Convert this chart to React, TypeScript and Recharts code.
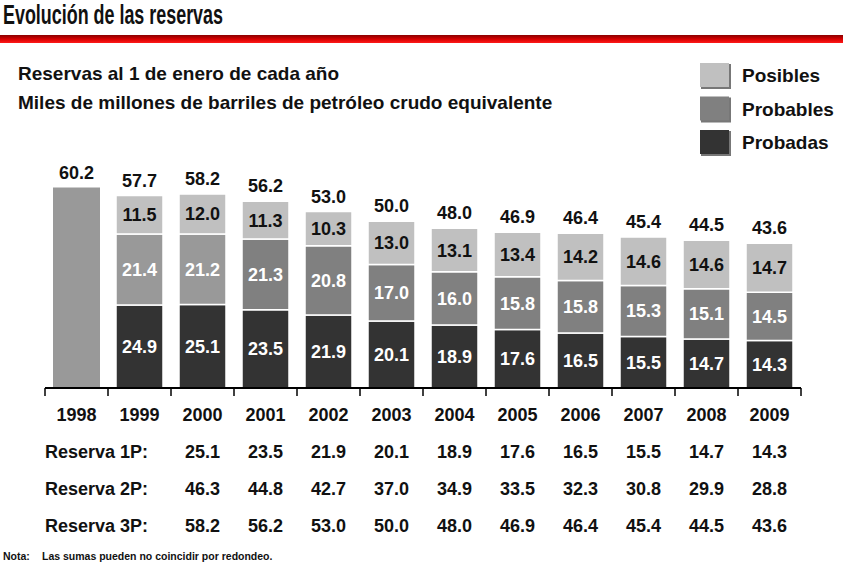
import React from 'react'
import { BarChart, Bar, XAxis, YAxis, Cell, LabelList } from 'recharts'

const years = ['1998', '1999', '2000', '2001', '2002', '2003', '2004', '2005', '2006', '2007', '2008', '2009']
// 1998 only has the total, no breakdown
const total1998 = [60.2, null, null, null, null, null, null, null, null, null, null, null]
const probadas = [null, 24.9, 25.1, 23.5, 21.9, 20.1, 18.9, 17.6, 16.5, 15.5, 14.7, 14.3]
const probables = [null, 21.4, 21.2, 21.3, 20.8, 17.0, 16.0, 15.8, 15.8, 15.3, 15.1, 14.5]
const posibles = [null, 11.5, 12.0, 11.3, 10.3, 13.0, 13.1, 13.4, 14.2, 14.6, 14.6, 14.7]
const totals = [60.2, 57.7, 58.2, 56.2, 53.0, 50.0, 48.0, 46.9, 46.4, 45.4, 44.5, 43.6]

// table below the chart, columns 2000..2009
const tableYears = ['2000', '2001', '2002', '2003', '2004', '2005', '2006', '2007', '2008', '2009']
const reserva1P = [25.1, 23.5, 21.9, 20.1, 18.9, 17.6, 16.5, 15.5, 14.7, 14.3]
const reserva2P = [46.3, 44.8, 42.7, 37.0, 34.9, 33.5, 32.3, 30.8, 29.9, 28.8]
const reserva3P = [58.2, 56.2, 53.0, 50.0, 48.0, 46.9, 46.4, 45.4, 44.5, 43.6]

const data = years.map((year, i) => ({
  year,
  base: total1998[i],
  probadas: probadas[i],
  probables: probables[i],
  posibles: posibles[i],
  total: posibles[i] == null ? null : totals[i],
}))

const FONT = '"Liberation Sans", Arial, sans-serif'
const W = 845
const H = 563
const PLOT_LEFT = 45
const PLOT_RIGHT = 801
const BW = (PLOT_RIGHT - PLOT_LEFT) / years.length

const C_POS = '#C0C0C0'
const C_PROB_LIGHT = '#999999'
const C_PROB = '#808080'
const C_PRD = '#333333'

const legendItems = [
  { name: 'Posibles', color: C_POS },
  { name: 'Probables', color: C_PROB },
  { name: 'Probadas', color: C_PRD },
]

const fmt = (v: any) => (v == null ? '' : Number(v).toFixed(1))

function YearTick(props: any) {
  const { x, y, payload, index } = props
  const last = index === years.length - 1
  return (
    <g transform={`translate(${x},${y})`}>
      <line x1={-BW / 2} x2={-BW / 2} y1={0} y2={8} stroke="#000" strokeWidth={1.5} />
      {last && <line x1={BW / 2} x2={BW / 2} y1={0} y2={8} stroke="#000" strokeWidth={1.5} />}
      <text y={33} textAnchor="middle" fontFamily={FONT} fontWeight="bold" fontSize={18} fill="#111">
        {payload.value}
      </text>
    </g>
  )
}

const inner = (color: string) => (props: any) => {
  const { x, y, width, height, value } = props
  if (value == null) return null
  return (
    <text x={x + width / 2} y={y + height / 2 + 6.5} textAnchor="middle" fontFamily={FONT}
      fontWeight="bold" fontSize={18} fill={color}>
      {fmt(value)}
    </text>
  )
}

const topLabel = (props: any) => {
  const { x, y, width, value } = props
  if (value == null) return null
  return (
    <text x={x + width / 2} y={y - 9} textAnchor="middle" fontFamily={FONT}
      fontWeight="bold" fontSize={18} fill="#111">
      {fmt(value)}
    </text>
  )
}

const colX = (year: string) => PLOT_LEFT + BW * (years.indexOf(year) + 0.5)

const tableRows = [
  { label: 'Reserva 1P:', values: reserva1P, y: 458 },
  { label: 'Reserva 2P:', values: reserva2P, y: 495 },
  { label: 'Reserva 3P:', values: reserva3P, y: 532 },
]

export default function App() {
  return (
    <div style={{ position: 'absolute', left: 0, top: 0, width: W, height: H, background: '#fff', fontFamily: FONT, overflow: 'hidden' }}>
      {/* header + table text */}
      <svg width={W} height={H} style={{ position: 'absolute', left: 0, top: 0 }}>
        <defs>
          <linearGradient id="redbar" x1="0" y1="0" x2="0" y2="1">
            <stop offset="0" stopColor="#8a0000" />
            <stop offset="0.5" stopColor="#d40000" />
            <stop offset="1" stopColor="#ff1a1a" />
          </linearGradient>
        </defs>
        <text x={3} y={24} fontFamily={FONT} fontWeight="bold" fontSize={27} fill="#111"
          textLength={220} lengthAdjust="spacingAndGlyphs">
          Evolución de las reservas
        </text>
        <rect x={0} y={35} width={843} height={8} fill="url(#redbar)" />
        <text x={18} y={80} fontFamily={FONT} fontWeight="bold" fontSize={19} fill="#111">
          Reservas al 1 de enero de cada año
        </text>
        <text x={18} y={109} fontFamily={FONT} fontWeight="bold" fontSize={19} fill="#111">
          Miles de millones de barriles de petróleo crudo equivalente
        </text>

        {legendItems.map((it, i) => (
          <g key={it.name}>
            <rect x={701} y={64 + i * 33.5} width={30} height={25} fill="#777" />
            <rect x={700} y={63 + i * 33.5} width={29} height={24} fill={it.color} />
            <text x={742} y={82 + i * 33.5} fontFamily={FONT} fontWeight="bold" fontSize={19} fill="#111">
              {it.name}
            </text>
          </g>
        ))}

        {tableRows.map((row) => (
          <g key={row.label}>
            <text x={PLOT_LEFT} y={row.y} fontFamily={FONT} fontWeight="bold" fontSize={18} fill="#111">
              {row.label}
            </text>
            {row.values.map((v, i) => (
              <text key={i} x={colX(tableYears[i])} y={row.y} textAnchor="middle" fontFamily={FONT}
                fontWeight="bold" fontSize={18} fill="#111">
                {fmt(v)}
              </text>
            ))}
          </g>
        ))}

        <text x={3} y={560} fontFamily={FONT} fontWeight="bold" fontSize={10.5} fill="#111">Nota:</text>
        <text x={42} y={560} fontFamily={FONT} fontWeight="bold" fontSize={10.5} fill="#111">
          Las sumas pueden no coincidir por redondeo.
        </text>
      </svg>

      <div style={{ position: 'absolute', left: 0, top: 0 }}>
        <BarChart width={W} height={430} data={data} barSize={47}
          margin={{ top: 155, right: W - PLOT_RIGHT, left: PLOT_LEFT, bottom: 2 }}>
          <YAxis hide domain={[0, 70]} />
          <XAxis dataKey="year" height={40} axisLine={{ stroke: '#000', strokeWidth: 2 }}
            tickLine={false} tickSize={0} tickMargin={0} interval={0} tick={<YearTick />} />
          <Bar dataKey="base" stackId="a" fill={C_PROB_LIGHT} isAnimationActive={false}>
            <LabelList dataKey="base" content={topLabel} />
          </Bar>
          <Bar dataKey="probadas" stackId="a" fill={C_PRD} stroke="#fff" strokeWidth={1.5} isAnimationActive={false}>
            <LabelList dataKey="probadas" content={inner('#fff')} />
          </Bar>
          <Bar dataKey="probables" stackId="a" stroke="#fff" strokeWidth={1.5} isAnimationActive={false}>
            {data.map((d, i) => (
              <Cell key={d.year} fill={i <= 2 ? C_PROB_LIGHT : C_PROB} />
            ))}
            <LabelList dataKey="probables" content={inner('#fff')} />
          </Bar>
          <Bar dataKey="posibles" stackId="a" fill={C_POS} stroke="#fff" strokeWidth={1.5} isAnimationActive={false}>
            <LabelList dataKey="posibles" content={inner('#111')} />
            <LabelList dataKey="total" content={topLabel} />
          </Bar>
        </BarChart>
      </div>
    </div>
  )
}
